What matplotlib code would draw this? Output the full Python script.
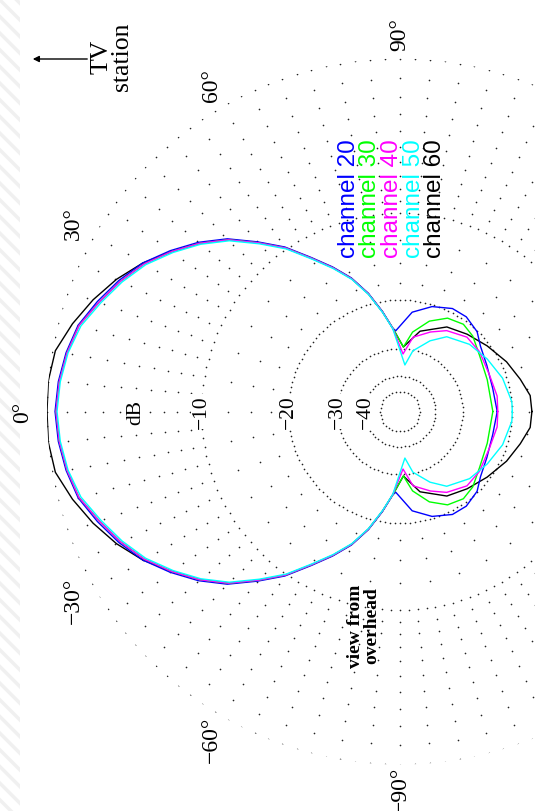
import numpy as np
import matplotlib.pyplot as plt
from matplotlib.patches import Rectangle

# main lobe toward the station (deg, dB)
lobe_deg = [0, 5, 10, 15, 20, 25, 30, 35, 40, 45, 50, 55, 60, 65, 70, 75, 80, 85]
lobe_db = [-0.45, -0.55, -0.75, -1.05, -1.7, -2.35, -3.1, -4.1, -5.2, -6.5,
           -8.2, -9.9, -12.0, -13.9, -15.9, -18.5, -21.7, -25.0]
lobe20_db = [-0.4, -0.5, -0.7, -1.0, -1.6, -2.25, -3.0, -4.0, -5.1, -6.4,
             -8.1, -9.8, -11.9, -13.8, -15.8, -18.4, -21.6, -25.0]
lobe50_db = [-0.5, -0.6, -0.8, -1.15, -1.8, -2.45, -3.2, -4.2, -5.3, -6.6,
             -8.3, -10.0, -12.1, -14.0, -16.0, -18.6, -21.8, -25.1]
# channel 60 is a bit fatter in front
lobe60_db = [0.0, 0.0, -0.15, -0.7, -1.35, -2.1, -3.0, -4.1, -5.2, -6.5,
             -8.2, -9.9, -12.0, -13.9, -15.9, -18.5, -21.7, -25.0]

# null + back lobe for each channel (deg, dB)
back20_deg = [87, 97, 107, 117, 125, 134, 141, 152, 166, 180]
back20_db = [-25.6, -21.9, -20.3, -19.4, -19.4, -20.1, -21.3, -22.2, -22.7, -22.4]
back30_deg = [93, 99, 108, 117, 126, 134, 145, 160, 180]
back30_db = [-29.5, -25.7, -22.8, -21.1, -20.6, -21.1, -22.4, -23.2, -23.2]
back40_deg = [93, 100, 111, 120, 132, 143, 158, 171, 180]
back40_db = [-31.5, -26.8, -24.7, -23.1, -21.9, -22.0, -22.5, -22.2, -22.3]
back50_deg = [96, 102, 113, 122, 136, 149, 162, 175, 180]
back50_db = [-35.1, -30.2, -26.5, -24.1, -22.5, -21.6, -20.6, -19.9, -19.9]
back60_deg = [93, 104, 119, 131, 143, 155, 165, 173, 180]
back60_db = [-29.5, -25.2, -22.5, -21.5, -20.4, -19.1, -18.1, -17.2, -17.1]

channels = ['channel 20', 'channel 30', 'channel 40', 'channel 50', 'channel 60']
colors = ['#0000ff', '#00ff00', '#ff00ff', '#00ffff', '#000000']

ring_db = [0, -10, -20, -30, -40, -50]
ring_labels = ['dB', '\u221210', '\u221220', '\u221230', '\u221240']
ring_label_db = [-5, -10, -20, -30, -40.5]
angle_ticks = [0, 30, 60, 90, -30, -60, -90]


def rad(db):
    # radius grows like 10^(dB/40) on the original chart
    return 10 ** (np.asarray(db, dtype=float) / 40.0)


def mirror(deg, db):
    deg = np.asarray(deg, dtype=float)
    db = np.asarray(db, dtype=float)
    d = np.concatenate([-deg[::-1], deg[1:]])
    v = np.concatenate([db[::-1], db[1:]])
    return np.deg2rad(d), rad(v)


W, H = 535, 812
fig = plt.figure(figsize=(W / 100, H / 100), dpi=100)
cx, cy, R = 400, 412.5, 353
ax = fig.add_axes([(cx - R) / W, (H - cy - R) / H, 2 * R / W, 2 * R / H],
                  projection='polar')
ax.set_theta_zero_location('W')
ax.set_theta_direction(-1)
ax.set_rlim(0, 1)
ax.set_axis_off()

# dotted rings
for db, n in zip(ring_db, [148, 140, 140, 88, 55, 32]):
    t = np.linspace(0, 2 * np.pi, n, endpoint=False)
    ax.plot(t, np.full(n, rad(db)), ls='none', marker='o', ms=1.2, mew=0,
            color='#222222')

# dotted spokes
sp = np.deg2rad(np.arange(0, 360, 5))
for k in range(1, 10):
    ax.plot(sp, np.full(sp.size, rad(-k)), ls='none', marker='o', ms=1.2,
            mew=0, color='#222222')
sp2 = np.deg2rad(np.arange(0, 360, 10))
for k in [12.5, 15, 17.5]:
    ax.plot(sp2, np.full(sp2.size, rad(-k)), ls='none', marker='o', ms=1.2,
            mew=0, color='#222222')

lobes = [lobe20_db, lobe_db, lobe_db, lobe50_db, lobe60_db]
backs = [(back20_deg, back20_db), (back30_deg, back30_db), (back40_deg, back40_db),
         (back50_deg, back50_db), (back60_deg, back60_db)]
zorders = [3, 4, 5, 6, 2]
for lob, (bd, bv), c, z in zip(lobes, backs, colors, zorders):
    t, r = mirror(lobe_deg + bd, lob + bv)
    ax.plot(t, r, color=c, lw=1.0, zorder=z)

for lab, db in zip(ring_labels, ring_label_db):
    ax.text(0, rad(db), lab, rotation=90, ha='center', va='center',
            family='Liberation Serif', fontsize=15.5, zorder=8,
            bbox=dict(facecolor='white', edgecolor='none', pad=0.5))

for a in angle_ticks:
    lab = ('\u2212' if a < 0 else '') + f'{abs(a)}\u00b0'
    ax.text(np.deg2rad(a), 1.07, lab, rotation=90, ha='center', va='center',
            family='Liberation Serif', fontsize=17)


def fx(x):
    return x / W


def fy(y):
    return 1 - y / H


for i, (name, c) in enumerate(zip(channels, colors)):
    fig.text(fx(349 + 21.5 * i), fy(258), name, color=c, rotation=90,
             ha='center', va='bottom', family='Liberation Sans', fontsize=17.5)

fig.text(fx(364), fy(626), 'view from\noverhead', rotation=90, ha='center',
         va='center', family='Liberation Serif', fontweight='bold',
         fontsize=14, linespacing=0.95)
fig.text(fx(112), fy(57), 'TV\nstation', rotation=90, ha='center', va='center',
         family='Liberation Serif', fontsize=18.5, linespacing=0.9)
ax.annotate('', xy=(30, H - 60), xytext=(90, H - 60), xycoords='figure pixels',
            textcoords='figure pixels',
            arrowprops=dict(arrowstyle='-|>', color='k', lw=1.0,
                            mutation_scale=9))

plt.rcParams['hatch.linewidth'] = 2.5
fig.patches.append(Rectangle((0, 0), 20 / W, 1, transform=fig.transFigure,
                             facecolor='white', edgecolor='#f0f0f0', lw=0,
                             hatch='\\\\', zorder=-5))

fig.savefig('out.png', dpi=100)
